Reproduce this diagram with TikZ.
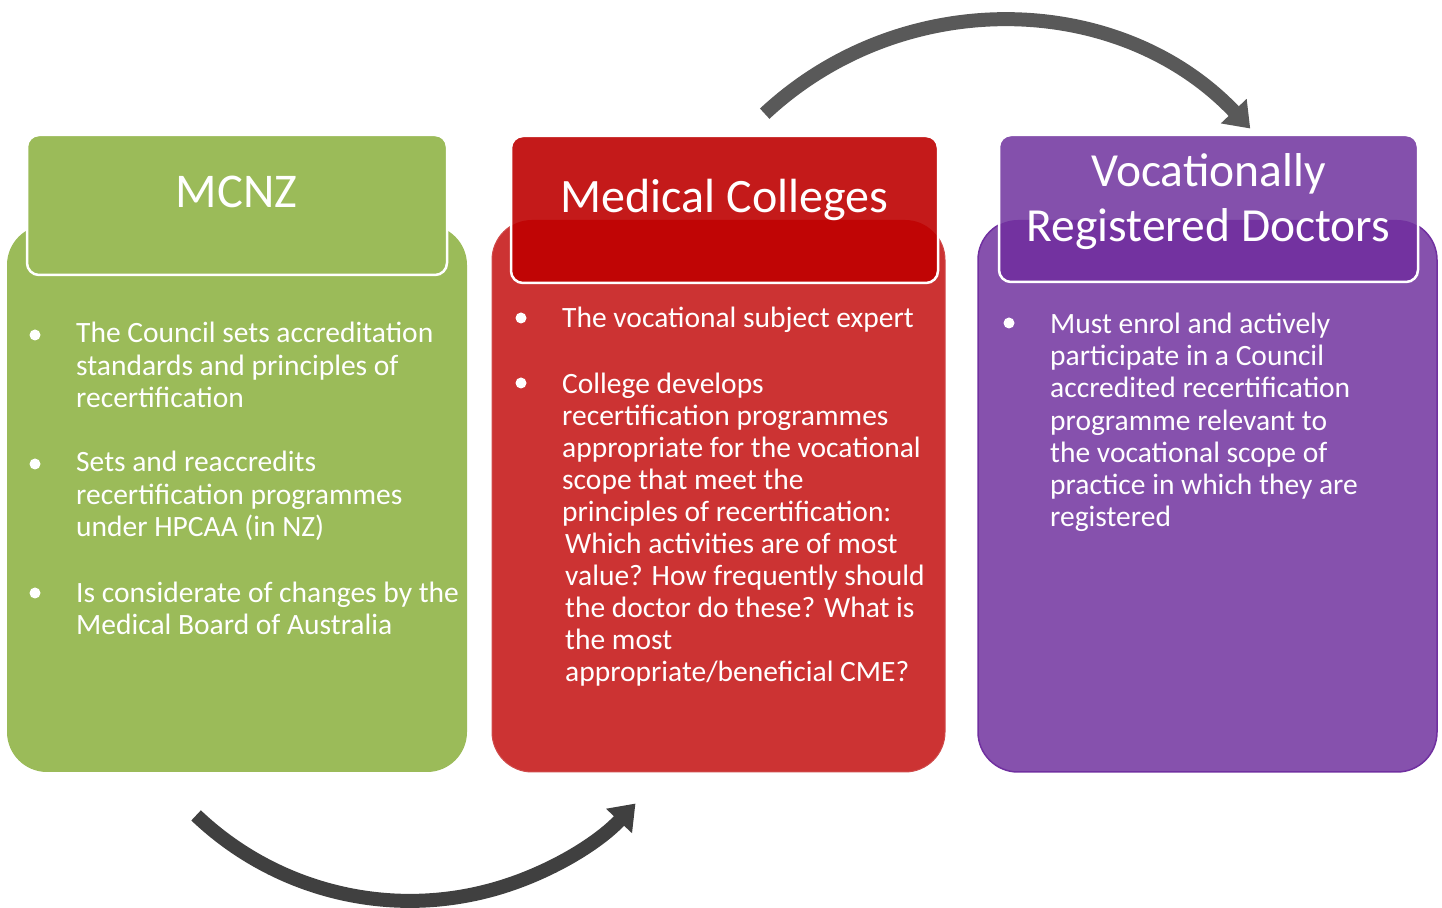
\documentclass[tikz,border=0pt]{standalone}
\usepackage{fontspec}
\setmainfont{Carlito}
\usetikzlibrary{arrows.meta}
\definecolor{grn}{HTML}{9BBB59}
\definecolor{redbody}{HTML}{CC3333}
\definecolor{redhead}{HTML}{C41A1A}
\definecolor{redover}{HTML}{C00505}
\definecolor{redline}{HTML}{D04A4A}
\definecolor{purbody}{HTML}{8651AD}
\definecolor{purhead}{HTML}{8450AC}
\definecolor{purover}{HTML}{7332A0}
\definecolor{purline}{HTML}{7030A0}
\definecolor{arrA}{HTML}{595959}
\definecolor{arrB}{HTML}{404040}
\tikzset{
  bodybox/.style={rectangle, rounded corners=40pt, outer sep=0pt, inner sep=0pt, anchor=south west},
  headbox/.style={rectangle, rounded corners=12pt, outer sep=0pt, inner sep=0pt, anchor=south west},
  headline/.style={white, line width=2.5pt, rounded corners=12pt},
  headtext/.style={text=white, font=\fontsize{48.5}{55}\selectfont, anchor=base, align=center, inner sep=0pt},
  bodytext/.style={text=white, font=\fontsize{29.5}{32.3}\selectfont, anchor=base west, align=left, inner sep=0pt},
  bullet/.style={fill=white},
  bigarrow/.style={line width=14pt, -{Triangle[width=34pt,length=24pt]}},
}
\begin{document}
\begin{tikzpicture}[x=1pt,y=1pt]
\useasboundingbox (0,0) rectangle (1442,907);
% ---------- arrows
\coordinate (b1) at (196.1,91.6);
\draw[bigarrow, arrB] (b1) arc[start angle=226.4, end angle=316.7, radius=310];
\coordinate (t1) at (764.7,793.3);
\draw[bigarrow, arrA] (t1) arc[start angle=133, end angle=43.5, radius=345];
% ---------- green
\node[bodybox, fill=grn, minimum width=460pt, minimum height=547pt] (gbody) at (7,135) {};
\node[headbox, fill=grn, minimum width=420pt, minimum height=140pt] (ghead) at (27,632) {};
\draw[headline] (ghead.south west) rectangle (ghead.north east);
\node[headtext] (gtitle) at (236.5,699) {MCNZ};
% ---------- red
\node[bodybox, fill=redbody, draw=redline, line width=1pt, minimum width=453pt, minimum height=552pt] (rbody) at (492,135) {};
\node[headbox, fill=redhead, minimum width=427pt, minimum height=147pt] (rhead) at (511,624) {};
\begin{scope}
  \clip[rounded corners=40pt] (rbody.south west) rectangle (rbody.north east);
  \fill[redover, rounded corners=12pt] (rhead.south west) rectangle (rhead.north east);
\end{scope}
\draw[headline] (rhead.south west) rectangle (rhead.north east);
\node[headtext, font=\fontsize{48}{57}\selectfont] (rtitle) at (724.5,694) {Medical Colleges};
% ---------- purple
\node[bodybox, fill=purbody, draw=purline, line width=1.5pt, minimum width=459pt, minimum height=552pt] (pbody) at (978,135) {};
\node[headbox, fill=purhead, minimum width=419pt, minimum height=147pt] (phead) at (999,625) {};
\begin{scope}
  \clip[rounded corners=40pt] (pbody.south west) rectangle (pbody.north east);
  \fill[purover, rounded corners=12pt] (phead.south west) rectangle (phead.north east);
\end{scope}
\draw[headline] (phead.south west) rectangle (phead.north east);
\node[headtext, font=\fontsize{47.5}{55}\selectfont] (ptitle) at (1208.5,665) {Vocationally\\Registered Doctors};
% ---------- green text
\fill[bullet] (35,572) circle (5.5pt);
\node[bodytext] (g1) at (76,499.5) {The Council sets accreditation\\standards and principles of\\recertification};
\fill[bullet] (35,443) circle (5.5pt);
\node[bodytext] (g2) at (76,370.5) {Sets and reaccredits\\recertification programmes\\under HPCAA (in NZ)};
\fill[bullet] (35,314) circle (5.5pt);
\node[bodytext] (g3) at (76,272) {Is considerate of changes by the\\Medical Board of Australia};
% ---------- red text
\fill[bullet] (521,589) circle (5.5pt);
\node[bodytext] (r1) at (562,579.5) {The vocational subject expert};
\fill[bullet] (521,524) circle (5.5pt);
\node[bodytext, font=\fontsize{29.5}{32.1}\selectfont] (r2) at (562,225) {College develops\\recertification programmes\\appropriate for the vocational\\scope that meet the\\principles of recertification:\\\hspace*{3pt}Which activities are of most\\\hspace*{3pt}value? How frequently should\\\hspace*{3pt}the doctor do these? What is\\\hspace*{3pt}the most\\\hspace*{3pt}appropriate/beneficial CME?};
% ---------- purple text
\fill[bullet] (1009,584) circle (5.5pt);
\node[bodytext] (p1) at (1050,380) {Must enrol and actively\\participate in a Council\\accredited recertification\\programme relevant to\\the vocational scope of\\practice in which they are\\registered};
\end{tikzpicture}
\end{document}
